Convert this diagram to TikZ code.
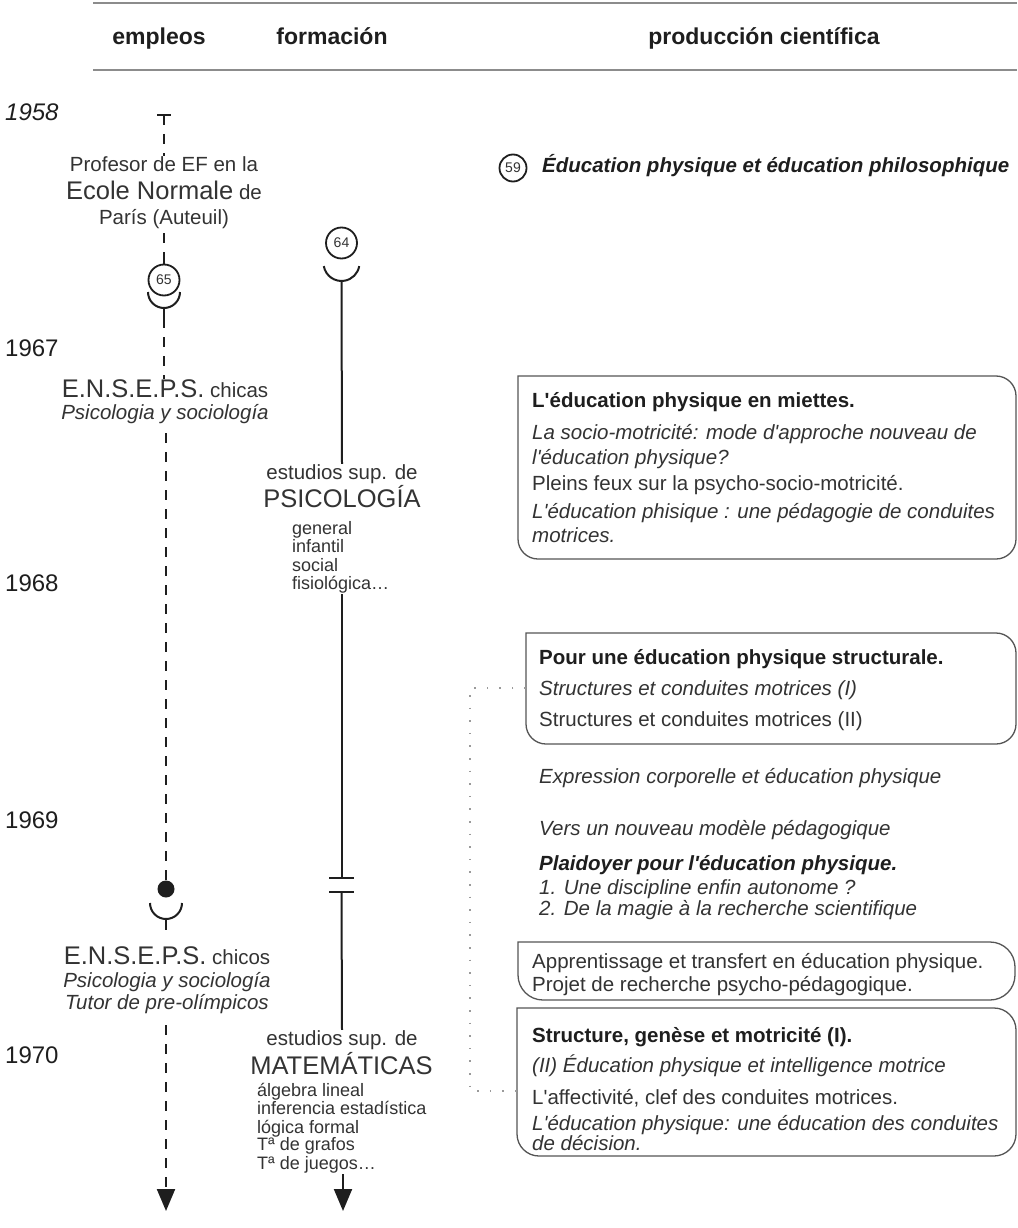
\documentclass[tikz,border=0pt]{standalone}
\usepackage{fontspec}
\setmainfont{Liberation Sans}
\usetikzlibrary{arrows.meta}
\pgfdeclarelayer{bg}
\pgfsetlayers{bg,main}
\definecolor{txt}{HTML}{333333}
\definecolor{ink}{HTML}{1E1E1E}
\definecolor{frame}{HTML}{555555}
\definecolor{rulec}{HTML}{8C8C8C}
\definecolor{dotc}{HTML}{9A9A9A}
\newcommand\fntN{\fontsize{20.5}{24}\selectfont}
\newcommand\fntL{\fontsize{25.5}{30}\selectfont}
\newcommand\fntS{\fontsize{18}{18.3}\selectfont}
\newcommand\fntY{\fontsize{24}{28}\selectfont}
\newcommand\fntH{\fontsize{23}{27}\selectfont}
\newcommand\fntC{\fontsize{14}{15}\selectfont}
\newcommand\qq{\textquotesingle}
\begin{document}
\begin{tikzpicture}[x=1pt,y=-1pt,
 lt/.style={anchor=base west,inner sep=0pt,text=txt,font=\fntN},
 ct/.style={anchor=base,inner sep=0pt,text=txt,font=\fntN,fill=white},
 sm/.style={anchor=base west,inner sep=0pt,text=txt,font=\fntS,fill=white},
 yr/.style={anchor=base west,inner sep=0pt,text=ink,font=\fntY},
 hd/.style={anchor=base,inner sep=0pt,text=ink,font=\fntH\bfseries},
 dashline/.style={draw=ink,line width=2.2pt,dash pattern=on 10pt off 9pt},
 solidline/.style={draw=ink,line width=2pt},
 numcirc/.style={circle,draw=ink,line width=1.8pt,inner sep=0pt,minimum size=31pt,font=\fntC,text=txt,fill=white},
 frm/.style={draw=frame,line width=1.3pt,line cap=rect},
 conn/.style={draw=dotc,line width=1.6pt,dash pattern=on 1.6pt off 11pt},
 tip/.style={-{Triangle[width=18pt,length=22pt]}}
]
\useasboundingbox (0,0) rectangle (1017,1228);
\begin{pgfonlayer}{bg}
\fill[white] (0,0) rectangle (1017,1228);
\end{pgfonlayer}
% header
\draw[rulec,line width=2.5pt] (93,3) -- (1017,3);
\draw[rulec,line width=2.5pt] (93,70) -- (1017,70);
\node[hd] (h1) at (159,45) {empleos};
\node[hd] (h2) at (332,45) {formación};
\node[hd] (h3) at (764,45) {producción científica};
% years
\node[yr,font=\fntY\itshape] (y58) at (5,121) {1958};
\node[yr] (y67) at (5,356) {1967};
\node[yr] (y68) at (5,591) {1968};
\node[yr] (y69) at (5,828) {1969};
\node[yr] (y70) at (5,1063) {1970};
% column 1: empleos
\coordinate (tA) at (164,115);
\coordinate (tL) at (157,115);
\coordinate (tR) at (171,115);
\node[ct] (p1) at (164,171) {Profesor de EF en la};
\node[ct] (p2) at (164,199) {{\fntL Ecole Normale} de};
\node[ct] (p3) at (164,224) {París (Auteuil)};
\node[numcirc] (c65) at (164,280) {65};
\coordinate (p3s) at (164,233);
\coordinate (cup65) at (164,292);
\coordinate (cup65b) at (164,308);
\coordinate (cup65c) at (164,318);
\node[ct] (en1) at (165,397) {{\fntL E.N.S.E.P.S.} chicas};
\node[ct,font=\fntN\itshape] (en2) at (165,419) {Psicologia y sociología};
\node[circle,fill=ink,minimum size=17pt,inner sep=0pt] (dot) at (166,889) {};
\coordinate (d1s) at (166,433);
\coordinate (cupd) at (166,903);
\coordinate (cupdb) at (166,919);
\coordinate (cupdc) at (166,930);
\node[ct] (ch1) at (167,964) {{\fntL E.N.S.E.P.S.} chicos};
\node[ct,font=\fntN\itshape] (ch2) at (167,987) {Psicologia y sociología};
\node[ct,font=\fntN\itshape] (ch3) at (167,1009) {Tutor de pre-olímpicos};
\coordinate (a1s) at (166,1025);
\coordinate (a1e) at (166,1211);
\begin{pgfonlayer}{bg}
\draw[solidline] (tL) -- (tR);
\draw[dashline] (tA) -- (p1.north);
\draw[dashline] (p3s) -- (c65.north);
\draw[solidline] (c65.north) -- ++(0,-9);
\draw[solidline] ([xshift=-16pt]cup65) arc[start angle=180,end angle=0,radius=16];
\draw[solidline] (cup65b) -- (cup65c);
\draw[dashline] (cup65c) -- (cup65c |- en1.north);
\draw[dashline] (d1s) -- (dot.north);
\draw[solidline] (dot.north) -- ++(0,-10);
\draw[solidline] ([xshift=-16pt]cupd) arc[start angle=180,end angle=0,radius=16];
\draw[solidline] (cupdb) -- (cupdc);
\draw[dashline,tip] (a1s) -- (a1e);
\end{pgfonlayer}
% column 2: formacion
\node[numcirc] (c64) at (341.5,243) {64};
\coordinate (cup64a) at (323.8,266.1);
\coordinate (cup64b) at (341.5,281);
\node[ct] (ps1) at (342,479) {estudios sup. de};
\node[ct,font=\fntL] (ps2) at (342,507) {PSICOLOGÍA};
\node[sm] (l1) at (292,534) {general};
\node[sm] (l2) at (292,552) {infantil};
\node[sm] (l3) at (292,571) {social};
\node[sm] (l4) at (292,589) {fisiológica…};
\coordinate (f1) at (341.5,594);
\coordinate (bar1) at (341.5,878);
\coordinate (bar2) at (341.5,892);
\node[ct] (ma1) at (342,1045) {estudios sup. de};
\node[ct,font=\fntL] (ma2) at (341.5,1074) {MATEMÁTICAS};
\node[sm] (m1) at (257,1096) {álgebra lineal};
\node[sm] (m2) at (257,1114) {inferencia estadística};
\node[sm] (m3) at (257,1133) {lógica formal};
\node[sm] (m4) at (257,1150) {Tª de grafos};
\node[sm] (m5) at (257,1169) {Tª de juegos…};
\coordinate (a2s) at (343,1174);
\coordinate (a2e) at (343,1211);
\begin{pgfonlayer}{bg}
\draw[solidline] (cup64a) arc[start angle=170,end angle=10,radius=18];
\draw[solidline] (cup64b) -- (ps1.north);
\draw[solidline] (f1) -- (bar1);
\draw[solidline,line width=2.5pt] ([xshift=-12.5pt]bar1) -- ([xshift=12.5pt]bar1);
\draw[solidline,line width=2.5pt] ([xshift=-12.5pt]bar2) -- ([xshift=12.5pt]bar2);
\draw[solidline] (bar2) -- (ma1.north);
\draw[solidline,tip] (a2s) -- (a2e);
\end{pgfonlayer}
% column 3: produccion
\node[numcirc,minimum size=27pt] (c59) at (513,168) {59};
\node[lt,text=ink,font=\fntN\bfseries\itshape] (t59) at (542,172) {Éducation physique et éducation philosophique};
% box 1
\draw[frm,rounded corners=20pt] (518,376) -- (1016,376) -- (1016,559) -- (518,559) -- (518,376);
\node[lt,text=ink,font=\fntN\bfseries] (b1a) at (532,407) {L\qq éducation physique en miettes.};
\node[lt,font=\fntN\itshape] (b1b) at (532,439) {La socio-motricité: mode d\qq approche nouveau de};
\node[lt,font=\fntN\itshape] (b1c) at (532,464) {l\qq éducation physique?};
\node[lt] (b1d) at (532,490) {Pleins feux sur la psycho-socio-motricité.};
\node[lt,font=\fntN\itshape] (b1e) at (532,518) {L\qq éducation phisique : une pédagogie de conduites};
\node[lt,font=\fntN\itshape] (b1f) at (532,542) {motrices.};
% box 2
\draw[frm,rounded corners=20pt] (526,633) -- (1016,633) -- (1016,744) -- (526,744) -- (526,633);
\node[lt,text=ink,font=\fntN\bfseries] (b2a) at (539,664) {Pour une éducation physique structurale.};
\node[lt,font=\fntN\itshape] (b2b) at (539,695) {Structures et conduites motrices (I)};
\node[lt] (b2c) at (539,726) {Structures et conduites motrices (II)};
% free entries
\node[lt,font=\fntN\itshape] (e1) at (539,783) {Expression corporelle et éducation physique};
\node[lt,font=\fntN\itshape] (e2) at (539,835) {Vers un nouveau modèle pédagogique};
\node[lt,text=ink,font=\fntN\bfseries\itshape] (e3) at (539,870) {Plaidoyer pour l\qq éducation physique.};
\node[lt,font=\fntN\itshape] (e4) at (539,894) {1. Une discipline enfin autonome ?};
\node[lt,font=\fntN\itshape] (e5) at (539,915) {2. De la magie à la recherche scientifique};
% box 3
\draw[frm,rounded corners=25pt] (518,942) -- (1015,942) -- (1015,1000) -- (518,1000) -- (518,942);
\node[lt] (b3a) at (532,968) {Apprentissage et transfert en éducation physique.};
\node[lt] (b3b) at (532,991) {Projet de recherche psycho-pédagogique.};
% box 4
\draw[frm,rounded corners=22pt] (517,1008) -- (1016,1008) -- (1016,1156) -- (517,1156) -- (517,1008);
\node[lt,text=ink,font=\fntN\bfseries] (b4a) at (532,1042) {Structure, genèse et motricité (I).};
\node[lt,font=\fntN\itshape] (b4b) at (532,1072) {(II) Éducation physique et intelligence motrice};
\node[lt] (b4c) at (532,1104) {L\qq affectivité, clef des conduites motrices.};
\node[lt,font=\fntN\itshape] (b4d) at (532,1130) {L\qq éducation physique: une éducation des conduites};
\node[lt,font=\fntN\itshape] (b4e) at (532,1150) {de décision.};
% dotted connector
\coordinate (b2l) at (526,688);
\coordinate (b4l) at (517,1091);
\draw[conn] (b2l) -- ++(-56,0) |- (b4l);
\end{tikzpicture}
\end{document}
